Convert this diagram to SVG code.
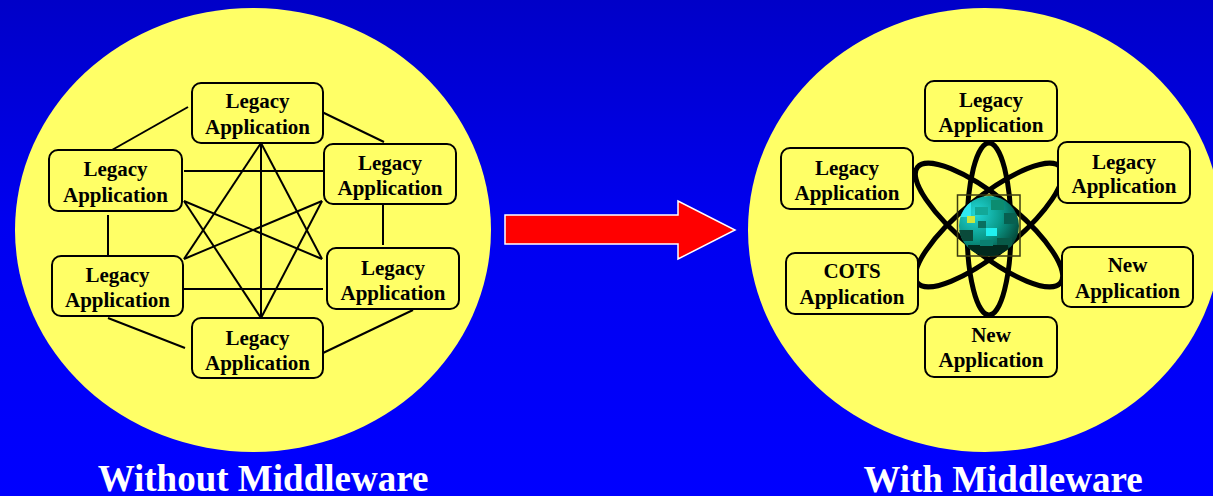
<svg xmlns="http://www.w3.org/2000/svg" width="1213" height="496" viewBox="0 0 1213 496">
<defs>
<linearGradient id="bg" x1="0" y1="0" x2="0" y2="1">
<stop offset="0" stop-color="#0000c8"/>
<stop offset="0.45" stop-color="#0000f0"/>
<stop offset="1" stop-color="#0000ff"/>
</linearGradient>
<radialGradient id="globe" cx="0.3" cy="0.3" r="0.8">
<stop offset="0" stop-color="#22d8d8"/>
<stop offset="0.5" stop-color="#0a9a8a"/>
<stop offset="1" stop-color="#033a2a"/>
</radialGradient>
<clipPath id="gc"><circle cx="989" cy="226" r="30"/></clipPath>
<style>
.node{fill:#ffff66;stroke:#000;stroke-width:2}
.t{font-family:"Liberation Serif","Times New Roman",serif;font-weight:bold;font-size:21px;text-anchor:middle;fill:#000}
.cap{font-family:"Liberation Serif","Times New Roman",serif;font-weight:bold;font-size:37px;text-anchor:middle;fill:#fff}
.ln{stroke:#000;stroke-width:2;fill:none}
.orb{fill:none;stroke:#000;stroke-width:5}
</style>
</defs>
<rect x="0" y="0" width="1213" height="496" fill="url(#bg)"/>
<text x="-11" y="155" class="cap">s</text>
<ellipse cx="253" cy="230" rx="238" ry="222" fill="#ffff66"/>
<ellipse cx="985" cy="230" rx="237" ry="222" fill="#ffff66"/>

<g id="connectors">
<line class="ln" x1="188" y1="107" x2="112" y2="150"/>
<line class="ln" x1="322" y1="112" x2="384" y2="142"/>
<line class="ln" x1="184" y1="171" x2="323" y2="171"/>
<line class="ln" x1="108" y1="215" x2="108" y2="259"/>
<line class="ln" x1="383" y1="201" x2="383" y2="245"/>
<line class="ln" x1="184" y1="289" x2="323" y2="289"/>
<line class="ln" x1="108" y1="318" x2="185" y2="348"/>
<line class="ln" x1="323" y1="353" x2="413" y2="310"/>
<line class="ln" x1="261" y1="143" x2="261" y2="318"/>
<line class="ln" x1="261" y1="143" x2="184" y2="259"/>
<line class="ln" x1="261" y1="143" x2="322" y2="259"/>
<line class="ln" x1="184" y1="201" x2="261" y2="318"/>
<line class="ln" x1="322" y1="201" x2="261" y2="318"/>
<line class="ln" x1="184" y1="201" x2="322" y2="259"/>
<line class="ln" x1="322" y1="201" x2="184" y2="259"/>
</g>

<g id="L1"><rect class="node" x="192" y="83" width="131" height="60" rx="9"/><text class="t" x="257.5" y="108">Legacy</text><text class="t" x="257.5" y="134">Application</text></g>
<g id="L2"><rect class="node" x="49" y="150" width="133" height="61" rx="9"/><text class="t" x="115.5" y="176">Legacy</text><text class="t" x="115.5" y="202">Application</text></g>
<g id="L3"><rect class="node" x="324" y="144" width="132" height="60" rx="9"/><text class="t" x="390" y="170">Legacy</text><text class="t" x="390" y="195">Application</text></g>
<g id="L4"><rect class="node" x="52" y="256" width="131" height="60" rx="9"/><text class="t" x="117.5" y="282">Legacy</text><text class="t" x="117.5" y="307">Application</text></g>
<g id="L5"><rect class="node" x="327" y="248" width="132" height="61" rx="9"/><text class="t" x="393" y="275">Legacy</text><text class="t" x="393" y="300">Application</text></g>
<g id="L6"><rect class="node" x="192" y="318" width="131" height="60" rx="9"/><text class="t" x="257.5" y="345">Legacy</text><text class="t" x="257.5" y="370">Application</text></g>

<g id="arrow"><polygon points="505,215 678,215 678,201 735,230 678,259 678,244 505,244" fill="#ff0000" stroke="#ffffff" stroke-width="1.5"/></g>

<g id="middleware">
<ellipse class="orb" cx="989" cy="229" rx="22" ry="86"/>
<ellipse class="orb" cx="989" cy="225" rx="92" ry="28" transform="rotate(39 989 225)"/>
<ellipse class="orb" cx="989" cy="225" rx="92" ry="28" transform="rotate(-39 989 225)"/>
<rect x="957.5" y="195" width="62.5" height="61" fill="none" stroke="#3a3a10" stroke-width="1.5"/>
<g clip-path="url(#gc)">
<rect x="957" y="194" width="64" height="64" fill="url(#globe)"/>
<rect x="960" y="202" width="11" height="15" fill="#30e8f0"/>
<rect x="967" y="216" width="8" height="7" fill="#c8e840"/>
<rect x="975" y="207" width="13" height="8" fill="#12a898"/>
<rect x="991" y="200" width="13" height="10" fill="#0c8c70"/>
<rect x="1004" y="213" width="12" height="11" fill="#076050"/>
<rect x="986" y="228" width="11" height="8" fill="#20f0f0"/>
<rect x="978" y="221" width="8" height="7" fill="#0a7060"/>
<rect x="958" y="230" width="15" height="11" fill="#0a4a3a"/>
<rect x="997" y="238" width="15" height="9" fill="#085a48"/>
<rect x="968" y="245" width="40" height="14" fill="#022a1e"/>
<rect x="980" y="240" width="13" height="6" fill="#0a8070"/>
</g>
</g>

<g id="R1"><rect class="node" x="925" y="81" width="132" height="60" rx="9"/><text class="t" x="991" y="107">Legacy</text><text class="t" x="991" y="132">Application</text></g>
<g id="R2"><rect class="node" x="781" y="148" width="132" height="61" rx="9"/><text class="t" x="847" y="175">Legacy</text><text class="t" x="847" y="200">Application</text></g>
<g id="R3"><rect class="node" x="1058" y="142" width="132" height="61" rx="9"/><text class="t" x="1124" y="169">Legacy</text><text class="t" x="1124" y="193">Application</text></g>
<g id="R4"><rect class="node" x="786" y="253" width="132" height="61" rx="9"/><text class="t" x="852" y="278">COTS</text><text class="t" x="852" y="304">Application</text></g>
<g id="R5"><rect class="node" x="1062" y="247" width="131" height="60" rx="9"/><text class="t" x="1127.5" y="272">New</text><text class="t" x="1127.5" y="298">Application</text></g>
<g id="R6"><rect class="node" x="925" y="317" width="132" height="60" rx="9"/><text class="t" x="991" y="342">New</text><text class="t" x="991" y="367">Application</text></g>

<text class="cap" x="263" y="491">Without Middleware</text>
<text class="cap" x="1003" y="492">With Middleware</text>
</svg>
